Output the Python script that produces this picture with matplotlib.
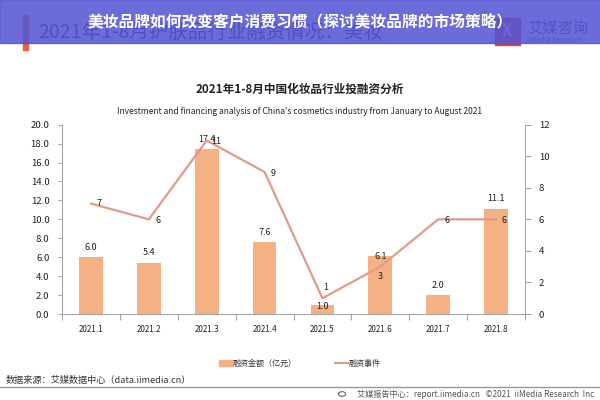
import matplotlib
matplotlib.use("Agg")
import matplotlib.pyplot as plt
from matplotlib.patches import Rectangle, Circle
from matplotlib.lines import Line2D

plt.rcParams['font.family'] = ['Noto Sans CJK SC', 'DejaVu Sans']

months = ["2021.1", "2021.2", "2021.3", "2021.4", "2021.5", "2021.6", "2021.7", "2021.8"]
amount = [6.0, 5.4, 17.4, 7.6, 1.0, 6.1, 2.0, 11.1]
events = [7, 6, 11, 9, 1, 3, 6, 6]
left_ticks = [0, 2, 4, 6, 8, 10, 12, 14, 16, 18, 20]
right_ticks = [0, 2, 4, 6, 8, 10, 12]

BAR = "#F4B183"
LINE = "#E49A86"
GRID = "#A6A6A6"

W, H = 600, 400
fig = plt.figure(figsize=(6, 4), dpi=100)
fig.patch.set_facecolor("white")

def fx(x):
    return x / W

def fy(y):
    return 1 - y / H

# axes
ax = fig.add_axes([fx(62), fy(314), fx(525) - fx(62), fy(124.7) - fy(314)])
x = list(range(len(months)))
ax.bar(x, amount, width=0.41, color=BAR, zorder=2)
ax.set_xlim(-0.5, len(months) - 0.5)
ax.set_ylim(0, 20)
ax.set_yticks(left_ticks)
ax.set_yticklabels([f"{v:.1f}" for v in left_ticks], fontsize=6.9, color="#222222")
ax.set_xticks(x)
ax.set_xticklabels(months, fontsize=5.8, color="#222222")
ax.set_xticks([i + 0.5 for i in range(-1, len(months))], minor=True)
ax.tick_params(axis="x", which="major", length=0, pad=8)
ax.tick_params(axis="x", which="minor", length=4, color=GRID, width=0.8)
ax.tick_params(axis="y", length=3, color=GRID, width=0.8, pad=6)
for s in ["top", "right"]:
    ax.spines[s].set_visible(False)
for s in ["left", "bottom"]:
    ax.spines[s].set_color(GRID)
    ax.spines[s].set_linewidth(0.8)

bar_off = [10, 10, 10, 10, -2, 0, 10, 10]
for i, (v, o) in enumerate(zip(amount, bar_off)):
    ax.annotate(f"{v:.1f}", (i, v), xytext=(0, o), textcoords="offset pixels",
                ha="center", va="center", fontsize=6.5, color="#222222", zorder=5)

ax2 = ax.twinx()
ax2.plot(x, events, color=LINE, lw=1.6, zorder=3)
ax2.set_ylim(0, 12)
ax2.set_yticks(right_ticks)
ax2.set_yticklabels([str(v) for v in right_ticks], fontsize=6.9, color="#222222")
ax2.tick_params(axis="y", length=4, color=GRID, width=0.8, pad=6)
for s in ["top", "left", "bottom"]:
    ax2.spines[s].set_visible(False)
ax2.spines["right"].set_color(GRID)
ax2.spines["right"].set_linewidth(0.8)

line_off = [(8, 0), (9, -1), (10, -1), (9, -1), (3, 11), (0, -10), (9, -1), (8, -1)]
for i, (v, o) in enumerate(zip(events, line_off)):
    ax2.annotate(str(v), (i, v), xytext=o, textcoords="offset pixels",
                 ha="center", va="center", fontsize=6.5, color="#222222", zorder=5)

# titles
fig.text(fx(300), fy(89.5), "2021年1-8月中国化妆品行业投融资分析", ha="center", va="center",
         fontsize=8.4, fontweight="bold", color="#222222")
fig.text(fx(300), fy(112), "Investment and financing analysis of China's cosmetics industry from January to August 2021",
         ha="center", va="center", fontsize=6.1, color="#222222")

# legend
fig.patches.append(Rectangle((fx(219), fy(366)), fx(13), 6 / H, transform=fig.transFigure,
                             color=BAR, figure=fig))
fig.text(fx(233), fy(363), "融资金额（亿元）", ha="left", va="center", fontsize=5.8, color="#333333")
fig.lines.append(Line2D([fx(335), fx(348)], [fy(363), fy(363)], transform=fig.transFigure,
                        color=LINE, lw=1.5, figure=fig))
fig.text(fx(349), fy(363), "融资事件", ha="left", va="center", fontsize=5.8, color="#333333")

# source & footer
fig.text(fx(6), fy(380), "数据来源：艾媒数据中心（data.iimedia.cn）", ha="left", va="center",
         fontsize=6.6, color="#333333")
fig.lines.append(Line2D([0, 1], [fy(387), fy(387)], transform=fig.transFigure,
                        color="#999999", lw=1.0, figure=fig))
fig.patches.append(Circle((fx(342), fy(394)), 3.5 / W, transform=fig.transFigure,
                          fill=False, ec="#666666", lw=0.8, figure=fig))
fig.text(fx(594), fy(394), "艾媒报告中心：report.iimedia.cn   ©2021  iiMedia Research  Inc",
         ha="right", va="center", fontsize=5.9, color="#555555")

# faded underlying header
fig.patches.append(Rectangle((fx(23), fy(50)), fx(5), 35 / H, transform=fig.transFigure,
                             color="#E8603C", figure=fig))
fig.text(fx(38), fy(32), "2021年1-8月护肤品行业融资情况：美妆", ha="left", va="center",
         fontsize=14, color="#1c1c5c")
fig.patches.append(Rectangle((fx(495), fy(45)), fx(25), 27 / H, transform=fig.transFigure,
                             color="#C8463C", figure=fig))
fig.text(fx(507.5), fy(31), "X", ha="center", va="center", fontsize=12, color="#EFEFEF",
         fontweight="bold")
fig.text(fx(527), fy(28), "艾媒咨询", ha="left", va="center", fontsize=11, color="#3b3b7a")
fig.text(fx(527), fy(40), "iiMedia Research", ha="left", va="center", fontsize=5, color="#3b3b7a")

# purple band
fig.patches.append(Rectangle((0, fy(43)), 1, 43 / H, transform=fig.transFigure,
                             color="#5657D4", alpha=0.88, figure=fig, zorder=10))
fig.text(fx(300), fy(22), "美妆品牌如何改变客户消费习惯（探讨美妆品牌的市场策略）", ha="center",
         va="center", fontsize=11.3, fontweight="bold", color="white", zorder=11)

fig.savefig("out.png", dpi=100)
